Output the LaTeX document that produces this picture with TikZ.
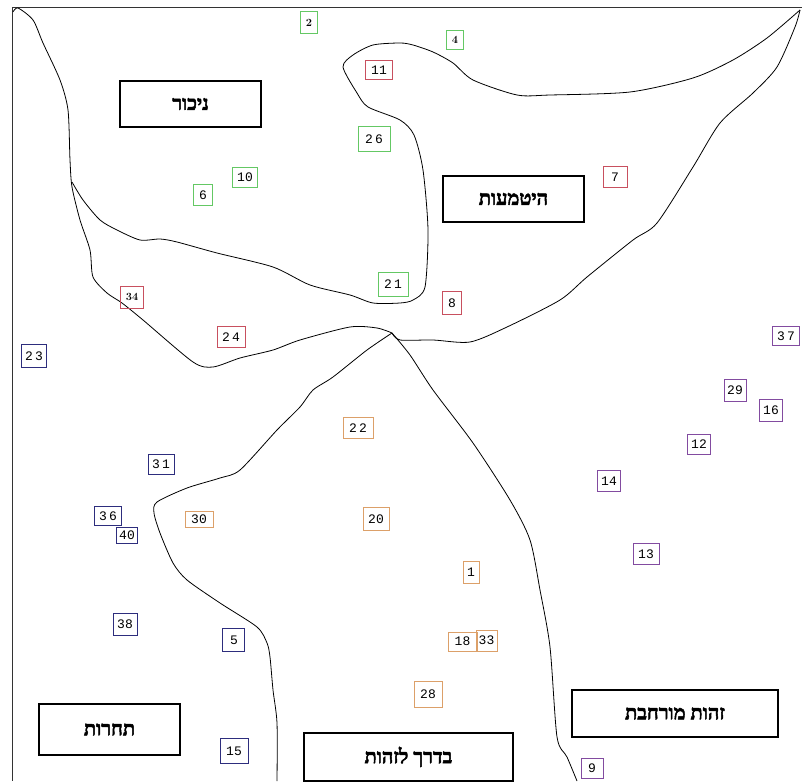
\documentclass[tikz,border=0pt]{standalone}
\usepackage{fontspec}
\usepackage{tikz}
\TeXXeTstate=1
\newfontfamily\hebfont[Script=Hebrew, FakeBold=2.5]{Liberation Serif Bold}
\newfontfamily\numfont{Liberation Mono}
\definecolor{grn}{RGB}{100,200,100}
\definecolor{rd}{RGB}{200,80,95}
\definecolor{nv}{RGB}{45,45,125}
\definecolor{orn}{RGB}{220,160,105}
\definecolor{prp}{RGB}{130,75,160}
\tikzset{
  numbox/.style={draw, line width=1pt, inner sep=0pt, minimum width=23pt, minimum height=21pt, font=\numfont\fontsize{13}{14}\selectfont},
  boldnum/.style={font=\rmfamily\bfseries\fontsize{11}{12}\selectfont},
  areabox/.style={draw, line width=1.8pt, inner sep=0pt, font=\hebfont\fontsize{20}{21}\selectfont},
  border/.style={line width=0.8pt, black!80},
  region/.style={line width=0.8pt, smooth, tension=0.45}
}
\newcommand{\heb}[1]{\beginR #1\endR}

\begin{document}
\begin{tikzpicture}[x=1pt, y=-1pt]
		\useasboundingbox (0,0) rectangle (802,781);
		%%%%% FRAME %%%%%
		\draw[border] (802,7) -- (12,7) -- (12,781);
		
		%%%%% REGIONS %%%%%
		\coordinate (junc) at (392,333);
		\draw[region] plot coordinates {(13,12) (18,8) (33,20) (43,43) (60,80) (68,110) (70,160) (72,187) (80,220) (90,250) (93,277) (107,293) (122,303) (143,320) (193,362) (213,367) (240,358) (273,350) (300,340) (350,327) (377,328) (junc)};
		\draw[region] plot coordinates {(72,182) (83,200) (100,220) (117,230) (140,240) (160,239) (177,242) (217,253) (273,267) (310,285) (350,295) (373,303) (400,303) (413,300) (425,287) (428,230) (423,170) (414,135) (400,120) (368,107) (357,93) (343,67) (353,55) (373,45) (400,43) (413,45) (433,52) (453,63) (473,80) (517,95) (550,95) (630,92) (693,78) (733,60) (767,38) (800,10)};
		\draw[region] plot coordinates {(800,10) (795,27) (777,67) (753,93) (720,123) (693,167) (657,223) (633,240) (587,277) (560,300) (507,327) (470,342) (433,340) (400,340) (junc)};
		\draw[region] plot coordinates {(junc) (367,350) (333,377) (313,390) (300,407) (277,430) (240,470) (220,478) (187,488) (157,502) (154,513) (160,533) (173,563) (187,580) (220,603) (257,627) (267,643) (270,657) (273,690) (277,723) (277,781)};
		\draw[region] plot coordinates {(junc) (410,355) (433,390) (473,443) (510,500) (530,540) (540,590) (550,647) (557,737) (567,757) (577,781)};
		
		%%%%% AREA NAMES %%%%%
		\node[areabox, minimum width=141pt, minimum height=46pt] (nikur) at (190.5,104) {\heb{ניכור}};
		\node[areabox, minimum width=141pt, minimum height=46pt] (hitmaut) at (513.5,199) {\heb{היטמעות}};
		\node[areabox, minimum width=141pt, minimum height=51pt] (taharut) at (109.5,729.5) {\heb{תחרות}};
		\node[areabox, minimum width=209pt, minimum height=48pt, anchor=north west] (baderech) at (303,732) {\heb{בדרך לזהות}};
		\node[areabox, minimum width=206pt, minimum height=47pt] (murhevet) at (675,713.5) {\heb{זהות מורחבת}};
		
		%%%%% GREEN %%%%%
		\node[numbox, grn, text=black, boldnum, minimum width=17pt, minimum height=22pt] (n2) at (309,23) {2};
		\node[numbox, grn, text=black, boldnum, minimum width=17pt, minimum height=19pt] (n4) at (455,40) {4};
		\node[numbox, grn, text=black, minimum width=32pt, minimum height=25pt] (n26) at (374,139) {2\,6};
		\node[numbox, grn, text=black, minimum width=25pt, minimum height=20pt] (n10) at (245,177) {10};
		\node[numbox, grn, text=black, minimum width=19pt, minimum height=21pt] (n6) at (203,195) {6};
		\node[numbox, grn, text=black, minimum width=30pt, minimum height=24pt] (n21) at (393,284) {2\,1};
		
		%%%%% RED %%%%%
		\node[numbox, rd, text=black, minimum width=27pt, minimum height=19pt] (n11) at (379,70) {11};
		\node[numbox, rd, text=black, minimum width=24pt, minimum height=21pt] (n7) at (615,177) {7};
		\node[numbox, rd, text=black, minimum width=19pt, minimum height=23pt] (n8) at (452,303) {8};
		\node[numbox, rd, text=black, boldnum, minimum width=23pt, minimum height=22pt] (n34) at (132,297) {34};
		\node[numbox, rd, text=black, minimum width=28pt, minimum height=21pt] (n24) at (231,337) {2\,4};
		
		%%%%% BLUE %%%%%
		\node[numbox, nv, text=black, minimum width=25pt, minimum height=23pt] (n23) at (34,356) {2\,3};
		\node[numbox, nv, text=black, minimum width=26pt, minimum height=20pt] (n31) at (161,464) {3\,1};
		\node[numbox, nv, text=black, minimum width=27pt, minimum height=19pt] (n36) at (108,516) {3\,6};
		\node[numbox, nv, text=black, minimum width=21pt, minimum height=16pt] (n40) at (127,535) {40};
		\node[numbox, nv, text=black, minimum width=24pt, minimum height=22pt] (n38) at (125,624) {38};
		\node[numbox, nv, text=black, minimum width=22pt, minimum height=23pt] (n5) at (233,640) {\,5};
		\node[numbox, nv, text=black, minimum width=28pt, minimum height=25pt] (n15) at (234,751) {15};
		
		%%%%% ORANGE %%%%%
		\node[numbox, orn, text=black, minimum width=30pt, minimum height=21pt] (n22) at (358,428) {2\,2};
		\node[numbox, orn, text=black, minimum width=28pt, minimum height=16pt] (n30) at (199,519) {30};
		\node[numbox, orn, text=black, minimum width=26pt, minimum height=23pt] (n20) at (376,519) {20};
		\node[numbox, orn, text=black, minimum width=16pt, minimum height=22pt] (n1) at (471,572) {1};
		\node[numbox, orn, text=black, minimum width=29pt, minimum height=19pt] (n18) at (462.5,641.5) {18};
		\node[numbox, orn, text=black, minimum width=21pt, minimum height=21pt] (n33) at (486.5,640.5) {33};
		\node[numbox, orn, text=black, minimum width=28pt, minimum height=26pt] (n28) at (428,694) {28};
		
		%%%%% PURPLE %%%%%
		\node[numbox, prp, text=black, minimum width=27pt, minimum height=19pt] (n37) at (786,336) {3\,7};
		\node[numbox, prp, text=black, minimum width=22pt, minimum height=22pt] (n29) at (735,390) {29};
		\node[numbox, prp, text=black, minimum width=23pt, minimum height=22pt] (n16) at (771,410) {16};
		\node[numbox, prp, text=black, minimum width=23pt, minimum height=20pt] (n12) at (699,444) {12};
		\node[numbox, prp, text=black, minimum width=23pt, minimum height=21pt] (n14) at (609,481) {14};
		\node[numbox, prp, text=black, minimum width=26pt, minimum height=21pt] (n13) at (646,554) {13};
		\node[numbox, prp, text=black, minimum width=22pt, minimum height=20pt] (n9) at (592,768) {9};
		%%%%% END %%%%%
	\end{tikzpicture}
\end{document}
